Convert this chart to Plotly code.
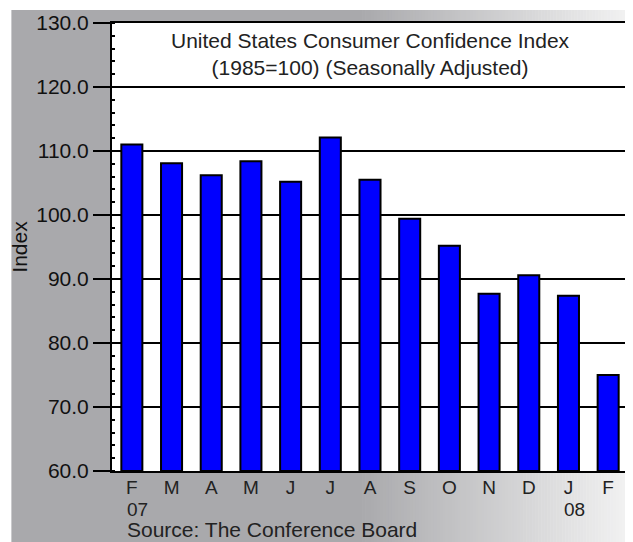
import plotly.graph_objects as go

months = ["F", "M", "A", "M", "J", "J", "A", "S", "O", "N", "D", "J", "F"]
years = ["07", "", "", "", "", "", "", "", "", "", "", "08", ""]
index_values = [111.0, 108.1, 106.2, 108.4, 105.2, 112.1, 105.5, 99.4, 95.2, 87.7, 90.6, 87.4, 75.0]
y_ticks = [60, 70, 80, 90, 100, 110, 120, 130]

# page has an 8px body margin; figure coordinates = reference - 8
W, H = 625, 534
L, R, T, B = 104, 3, 13, 71
pw, ph = W - L - R, H - T - B

def px_x(x):
    return (x - L) / pw

def px_y(y):
    return (H - B - y) / ph

FONT = "Liberation Sans, Arial, Helvetica, sans-serif"
cats = list(range(len(months)))

fig = go.Figure()
fig.add_trace(go.Bar(
    x=cats, y=[v - 60 for v in index_values], base=60,
    width=0.53,
    marker=dict(color="#0000ff", line=dict(color="black", width=2)),
    hoverinfo="skip",
))

shapes = []
gx0, gx1 = 352, W
shapes.append(dict(type="rect", xref="paper", yref="paper", layer="below",
                   x0=px_x(3), x1=px_x(gx0 + 1), y0=px_y(H + 2), y1=px_y(0),
                   fillcolor="#a9a9ac", line=dict(width=0)))
c0 = (169, 169, 172)
c1 = (243, 243, 243)
step = 3
x = gx0
while x < gx1:
    t = (x - gx0) / (gx1 - gx0)
    col = tuple(int(round(a + (b - a) * t)) for a, b in zip(c0, c1))
    shapes.append(dict(type="rect", xref="paper", yref="paper", layer="below",
                       x0=px_x(x), x1=px_x(min(x + step + 0.5, gx1 + 2)), y0=px_y(H + 2), y1=px_y(0),
                       fillcolor="rgb(%d,%d,%d)" % col, line=dict(width=0)))
    x += step
# white plotting area
shapes.append(dict(type="rect", xref="paper", yref="paper", layer="below",
                   x0=0, x1=1, y0=0, y1=1, fillcolor="white", line=dict(width=0)))

fig.update_layout(
    width=W, height=H,
    margin=dict(l=L, r=R, t=T, b=B),
    paper_bgcolor="white",
    plot_bgcolor="white",
    showlegend=False,
    shapes=shapes,
    font=dict(family=FONT, color="#222"),
)

fig.update_yaxes(
    range=[60, 130], tickvals=y_ticks, ticktext=["%.1f" % v for v in y_ticks],
    tickfont=dict(size=21, color="#111"),
    ticks="outside", ticklen=17, tickwidth=2, tickcolor="black",
    showgrid=True, gridcolor="black", gridwidth=2,
    showline=True, linecolor="black", linewidth=2, mirror=True,
    minor=dict(dtick=2, ticks="inside", ticklen=3, tickwidth=1.5, tickcolor="black", showgrid=False),
    title=dict(text="Index", font=dict(size=21, color="#111"), standoff=6),
    zeroline=False, fixedrange=True,
)
fig.update_xaxes(
    range=[-0.5, len(months) - 0.5],
    tickvals=cats, ticktext=months,
    tickfont=dict(size=19, color="#222"),
    ticks="", showgrid=False, ticklabelstandoff=-2,
    showline=True, linecolor="black", linewidth=2, mirror=True,
    fixedrange=True,
)

for i, yr in enumerate(years):
    if yr:
        fig.add_annotation(
            xref="x", yref="paper", x=i - 0.17, y=px_y(502), xanchor="left", yanchor="middle",
            text=yr, showarrow=False, font=dict(size=19, color="#222"),
        )

fig.add_annotation(
    xref="paper", yref="paper", x=0.5, y=px_y(44), yanchor="middle", xanchor="center",
    text="United States Consumer Confidence Index<br>(1985=100) (Seasonally Adjusted)",
    showarrow=False, font=dict(size=21, color="#222"),
)
fig.add_annotation(
    xref="paper", yref="paper", x=px_x(117), y=px_y(522), xanchor="left", yanchor="middle",
    text="Source: The Conference Board", showarrow=False,
    font=dict(size=21, color="#222"),
)

fig.write_html("out.html")
